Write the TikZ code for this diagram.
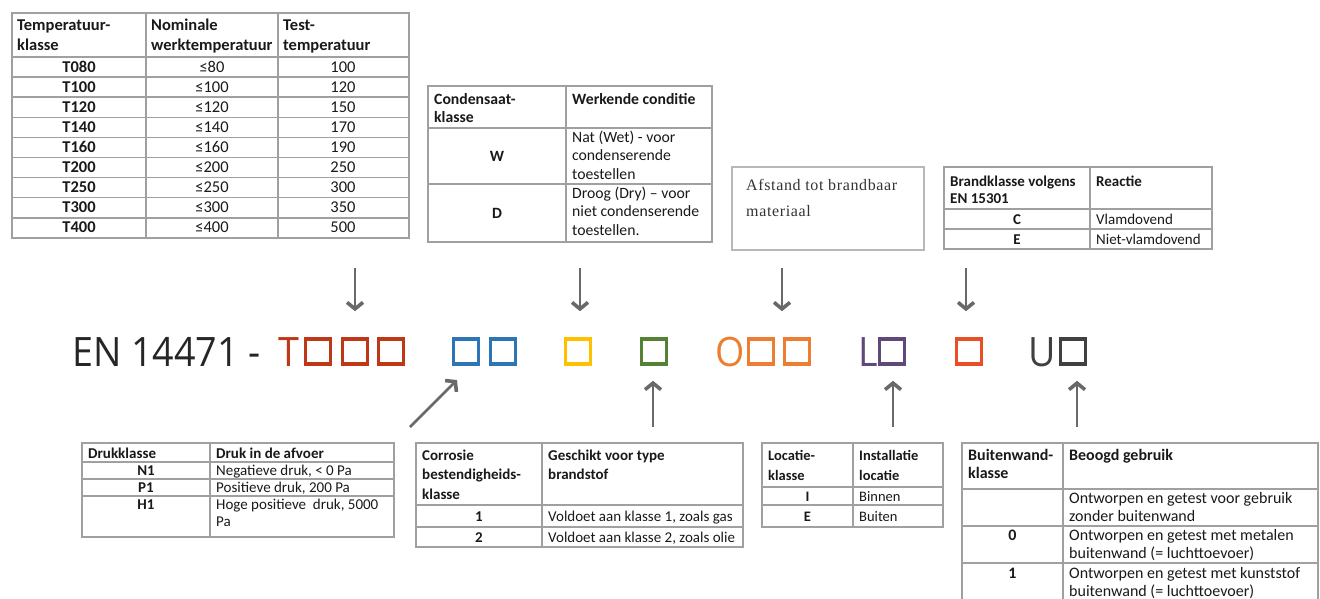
\documentclass[tikz,border=0pt]{standalone}
\usepackage{fontspec}
\setmainfont{Carlito}
\newfontfamily\codefont[FakeStretch=0.93]{Open Sans}
\newfontfamily\afstandfont[LetterSpace=4]{Liberation Serif}
\usetikzlibrary{arrows.meta,positioning}

\definecolor{kleurT}{RGB}{190,55,22}
\definecolor{kleurD}{RGB}{46,117,182}
\definecolor{kleurC}{RGB}{255,192,0}
\definecolor{kleurK}{RGB}{84,130,53}
\definecolor{kleurO}{RGB}{237,125,49}
\definecolor{kleurL}{RGB}{95,73,122}
\definecolor{kleurB}{RGB}{234,78,38}
\definecolor{kleurU}{RGB}{64,64,64}
\definecolor{rand}{RGB}{160,160,160}
\definecolor{pijlgrijs}{RGB}{105,105,105}
\definecolor{tekst}{RGB}{25,25,25}

\newcommand\tabfont{\fontsize{15}{19}\selectfont}

\begin{document}
\begin{tikzpicture}[
  x=1pt, y=-1pt,
  lijn/.style={draw=rand, line width=1.5pt},
  kop/.style={anchor=north west, align=left, inner sep=0pt, text=tekst, font=\tabfont\bfseries},
  cel/.style={anchor=north west, align=left, inner sep=0pt, text=tekst, font=\tabfont},
  links/.style={anchor=base west, inner sep=0pt, text=tekst, font=\tabfont},
  mid/.style={anchor=base, inner sep=0pt, text=tekst, font=\tabfont},
  midb/.style={mid, font=\tabfont\bfseries},
  vak/.style={draw, line width=3.6pt, minimum width=25pt, minimum height=25pt, inner sep=0pt},
  letter/.style={anchor=base east, inner sep=0pt, font=\codefont\fontsize{40.5}{40.5}\selectfont},
  pijl/.style={draw=pijlgrijs, line width=2.8pt,
    -{Straight Barb[length=6.5pt,width=16pt,line width=0.8pt 1]}}
]%
  \useasboundingbox (0,0) rectangle (1320,598);

  % Temperatuurklasse
  \begin{scope}
    \renewcommand\tabfont{\fontsize{16.5}{20}\selectfont}
    \draw[lijn] (12,13) rectangle (409,238);
    \draw[lijn] (146,13) -- (146,238) (278,13) -- (278,238) (12,57) -- (409,57);
    \foreach \i in {1,...,8}
      \draw[lijn] (12,{57+20.1*\i}) -- (409,{57+20.1*\i});
    \node[kop] (tk1) at (17,16) {\strut Temperatuur-\\klasse};
    \node[kop] (tk2) at (151,16) {\strut Nominale\\werktemperatuur};
    \node[kop] (tk3) at (283,16) {\strut Test-\\temperatuur};
    \foreach \k/\w/\p [count=\i] in {T080/80/100, T100/100/120, T120/120/150,
        T140/140/170, T160/160/190, T200/200/250, T250/250/300, T300/300/350, T400/400/500} {
      \node[midb] (tkl\i) at (79,{57+20.1*(\i-1)+15}) {\k};
      \node[mid] (tnw\i) at (212,{57+20.1*(\i-1)+15}) {≤\w};
      \node[mid] (ttt\i) at (343,{57+20.1*(\i-1)+15}) {\p};
    }
  \end{scope}

  % Condensaatklasse
  \begin{scope}
    \renewcommand\tabfont{\fontsize{15.7}{18.5}\selectfont}
    \draw[lijn] (428,86) rectangle (712,242);
    \draw[lijn] (566,86) -- (566,242) (428,128) -- (712,128) (428,184) -- (712,184);
    \node[kop] (ck1) at (434,91) {\strut Condensaat-\\klasse};
    \node[kop] (ck2) at (572,91) {\strut Werkende conditie};
    \node[midb] (cw) at (497,161) {W};
    \node[cel] (cwt) at (572,129) {\strut Nat (Wet) - voor\\condenserende\\toestellen};
    \node[midb] (cd) at (497,218) {D};
    \node[cel] (cdt) at (572,185) {\strut Droog (Dry) – voor\\niet condenserende\\toestellen.};
  \end{scope}

  % Afstand
  \draw[draw=black!28, line width=1.5pt] (732,167) rectangle (924,250);
  \node[anchor=north west, align=left, inner sep=0pt, text=black!80,
    font=\afstandfont\fontsize{16}{26}\selectfont] (af) at (746,172.5)
    {\strut Afstand tot brandbaar\\materiaal};

  % Brandklasse
  \begin{scope}
    \renewcommand\tabfont{\fontsize{15}{17.5}\selectfont}
    \draw[lijn] (944,167) rectangle (1212,249);
    \draw[lijn] (1090,167) -- (1090,249) (944,209) -- (1212,209) (944,229) -- (1212,229);
    \node[kop] (bk1) at (950,173.75) {\strut Brandklasse volgens\\EN 15301};
    \node[kop] (bk2) at (1096,173.75) {\strut Reactie};
    \node[midb] (bc) at (1017,224) {C};
    \node[links] (bct) at (1096,224) {Vlamdovend};
    \node[midb] (be) at (1017,244) {E};
    \node[links] (bet) at (1096,244) {Niet-vlamdovend};
  \end{scope}

  % Drukklasse
  \begin{scope}
    \renewcommand\tabfont{\fontsize{15}{17}\selectfont}
    \draw[lijn] (82,443) rectangle (394,537);
    \draw[lijn] (210,443) -- (210,537);
    \foreach \y in {462,479,496}
      \draw[lijn] (82,\y) -- (394,\y);
    \node[links, font=\tabfont\bfseries] (dk1) at (88,458) {Drukklasse};
    \node[links, font=\tabfont\bfseries] (dk2) at (216,458) {Druk in de afvoer};
    \node[midb] (dn) at (146,475) {N1};
    \node[links] (dnt) at (216,475) {Negatieve druk, < 0 Pa};
    \node[midb] (dp) at (146,492) {P1};
    \node[links] (dpt) at (216,492) {Positieve druk, 200 Pa};
    \node[midb] (dh) at (146,509) {H1};
    \node[cel] (dht) at (216,497.1) {\strut Hoge positieve\ \ druk, 5000\\Pa};
  \end{scope}

  % Corrosie
  \begin{scope}
    \renewcommand\tabfont{\fontsize{15}{19.5}\selectfont}
    \draw[lijn] (416,443) rectangle (743,547);
    \draw[lijn] (542,443) -- (542,547) (416,505) -- (743,505) (416,527) -- (743,527);
    \node[kop] (kk1) at (422,446.35) {\strut Corrosie\\bestendigheids-\\klasse};
    \node[kop] (kk2) at (548,446.35) {\strut Geschikt voor type\\brandstof};
    \node[midb] (k1) at (479,521) {1};
    \node[links] (k1t) at (548,521) {Voldoet aan klasse 1, zoals gas};
    \node[midb] (k2) at (479,542) {2};
    \node[links] (k2t) at (548,542) {Voldoet aan klasse 2, zoals olie};
  \end{scope}

  % Locatie
  \begin{scope}
    \renewcommand\tabfont{\fontsize{14.5}{20}\selectfont}
    \draw[lijn] (762,443) rectangle (943,527);
    \draw[lijn] (853,443) -- (853,527) (762,487) -- (943,487) (762,505) -- (943,505);
    \node[kop] (lk1) at (768,446) {\strut Locatie-\\klasse};
    \node[kop] (lk2) at (859,446) {\strut Installatie\\locatie};
    \node[midb] (li) at (807.5,501) {I};
    \node[links] (lit) at (859,501) {Binnen};
    \node[midb] (le) at (807.5,521) {E};
    \node[links] (let) at (859,521) {Buiten};
  \end{scope}

  % Buitenwand
  \begin{scope}
    \renewcommand\tabfont{\fontsize{16}{18}\selectfont}
    \draw[lijn] (962,600) -- (962,443) -- (1318,443) -- (1318,600);
    \draw[lijn] (1063,443) -- (1063,600);
    \foreach \y in {489,526,563}
      \draw[lijn] (962,\y) -- (1318,\y);
    \node[kop] (uk1) at (968,447.4) {\strut Buitenwand-\\klasse};
    \node[links, font=\tabfont\bfseries] (uk2) at (1069,460) {Beoogd gebruik};
    \node[cel] (uat) at (1069,490.4) {\strut Ontworpen en getest voor gebruik\\zonder buitenwand};
    \node[midb] (u0) at (1012.5,540) {0};
    \node[cel] (u0t) at (1069,527.4) {\strut Ontworpen en getest met metalen\\buitenwand (= luchttoevoer)};
    \node[midb] (u1) at (1012.5,578) {1};
    \node[cel] (u1t) at (1069,565.4) {\strut Ontworpen en getest met kunststof\\buitenwand (= luchttoevoer)};
  \end{scope}

  % Code
  \node[letter, anchor=base west, text=black!85] (en) at (72,366) {EN 14471 -};
  \node[letter, text=kleurT] (lt) at (300,366) {T};
  \node[vak, draw=kleurT] (rt1) at (318,351.5) {};
  \node[vak, draw=kleurT] (rt2) at (355,351.5) {};
  \node[vak, draw=kleurT] (rt3) at (391,351.5) {};
  \node[vak, draw=kleurD] (bl1) at (466,351.5) {};
  \node[vak, draw=kleurD] (bl2) at (503,351.5) {};
  \node[vak, draw=kleurC] (ge) at (578,351.5) {};
  \node[vak, draw=kleurK] (gr) at (654,351.5) {};
  \node[letter, text=kleurO] (lo) at (745,366) {O};
  \node[vak, draw=kleurO] (ov1) at (761,351.5) {};
  \node[vak, draw=kleurO] (ov2) at (797,351.5) {};
  \node[letter, text=kleurL] (ll) at (878,366) {L};
  \node[vak, draw=kleurL] (lv) at (892,351.5) {};
  \node[vak, draw=kleurB] (br) at (969,351.5) {};
  \node[letter, text=kleurU] (lu) at (1056,366) {U};
  \node[vak, draw=kleurU] (uv) at (1073,351.5) {};

  % Pijlen
  \coordinate (pT) at (355,268);
  \coordinate (pC) at (580,268);
  \coordinate (pO) at (782,268);
  \coordinate (pB) at (966,268);
  \draw[pijl, shorten >=26pt] (pT) -- (pT |- rt2.north);
  \draw[pijl, shorten >=26pt] (pC) -- (pC |- ge.north);
  \draw[pijl, shorten >=26pt] (pO) -- (pO |- ov1.north);
  \draw[pijl, shorten >=26pt] (pB) -- (pB |- br.north);

  \coordinate (pD) at (410,427);
  \coordinate (pD2) at (457,380);
  \coordinate (pK) at (653,427);
  \coordinate (pL) at (893,427);
  \coordinate (pU) at (1077,427);
  \draw[pijl] (pD) -- (pD2);
  \draw[pijl, shorten >=15pt] (pK) -- (pK |- gr.south);
  \draw[pijl, shorten >=15pt] (pL) -- (pL |- lv.south);
  \draw[pijl, shorten >=15pt] (pU) -- (pU |- uv.south);
\end{tikzpicture}
\end{document}
